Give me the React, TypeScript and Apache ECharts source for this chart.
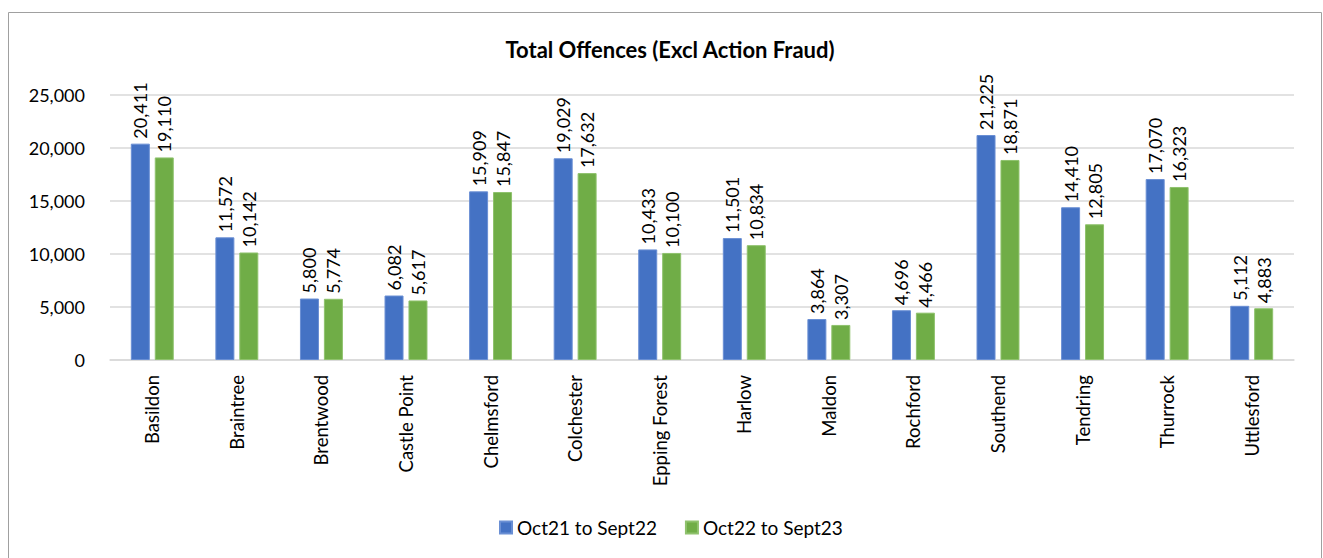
import React, { useEffect, useRef } from "react";
import * as echarts from "echarts";

const categories = [
  "Basildon", "Braintree", "Brentwood", "Castle Point", "Chelmsford", "Colchester",
  "Epping Forest", "Harlow", "Maldon", "Rochford", "Southend", "Tendring", "Thurrock", "Uttlesford",
];
const series1Name = "Oct21 to Sept22";
const series2Name = "Oct22 to Sept23";
const series1 = [20411, 11572, 5800, 6082, 15909, 19029, 10433, 11501, 3864, 4696, 21225, 14410, 17070, 5112];
const series2 = [19110, 10142, 5774, 5617, 15847, 17632, 10100, 10834, 3307, 4466, 18871, 12805, 16323, 4883];
const titleText = "Total Offences (Excl Action Fraud)";

const FONT = "Lato";
const fmt = (v: number) => v.toLocaleString("en-US");

export default function App() {
  const ref = useRef<HTMLDivElement>(null);
  useEffect(() => {
    if (!ref.current) return;
    const chart = echarts.init(ref.current, undefined, { renderer: "svg" });
    const label = {
      show: true,
      position: "top" as const,
      rotate: 90,
      align: "left" as const,
      verticalAlign: "middle" as const,
      distance: 5,
      color: "#000",
      fontFamily: FONT,
      fontSize: 18,
      formatter: (p: any) => fmt(p.value),
    };
    chart.setOption({
      animation: false,
      backgroundColor: "#fff",
      title: {
        text: titleText,
        left: 665,
        textAlign: "center",
        top: 33,
        textStyle: { fontFamily: FONT, fontWeight: "bold", fontSize: 22, color: "#000" },
      },
      graphic: [
        {
          type: "rect",
          shape: { x: 8.5, y: 12.5, width: 1313, height: 600 },
          style: { fill: "none", stroke: "#a0a0a0", lineWidth: 1 },
          silent: true,
        },
      ],
      legend: {
        bottom: 16,
        left: 494,
        itemWidth: 12,
        itemHeight: 12,
        itemGap: 28,
        icon: "rect",
        textStyle: { fontFamily: FONT, fontSize: 19, color: "#000" },
        data: [series1Name, series2Name],
      },
      grid: { left: 110, right: 29, top: 95, bottom: 198 },
      xAxis: {
        type: "category",
        data: categories,
        axisTick: { show: false },
        axisLine: { lineStyle: { color: "#d9d9d9", width: 1.5 } },
        axisLabel: {
          rotate: 90,
          margin: 15,
          interval: 0,
          color: "#000",
          fontFamily: FONT,
          fontSize: 18.5,
        },
      },
      yAxis: {
        type: "value",
        min: 0,
        max: 25000,
        interval: 5000,
        axisLine: { show: false },
        axisTick: { show: false },
        splitLine: { lineStyle: { color: "#d9d9d9", width: 1.5 } },
        axisLabel: {
          margin: 25,
          color: "#000",
          fontFamily: FONT,
          fontSize: 18,
          formatter: (v: number) => fmt(v),
        },
      },
      series: [
        {
          name: series1Name,
          type: "bar",
          data: series1,
          barWidth: 19,
          barGap: "26%",
          itemStyle: { color: "#4472C4", borderColor: "#6a8fd4", borderWidth: 1 },
          label,
        },
        {
          name: series2Name,
          type: "bar",
          data: series2,
          barWidth: 19,
          barGap: "26%",
          itemStyle: { color: "#70AD47", borderColor: "#8fc26d", borderWidth: 1 },
          label,
        },
      ],
    });
    return () => chart.dispose();
  }, []);
  return (
    <div
      ref={ref}
      style={{ position: "absolute", left: 0, top: 0, width: 1323, height: 558 }}
    />
  );
}
